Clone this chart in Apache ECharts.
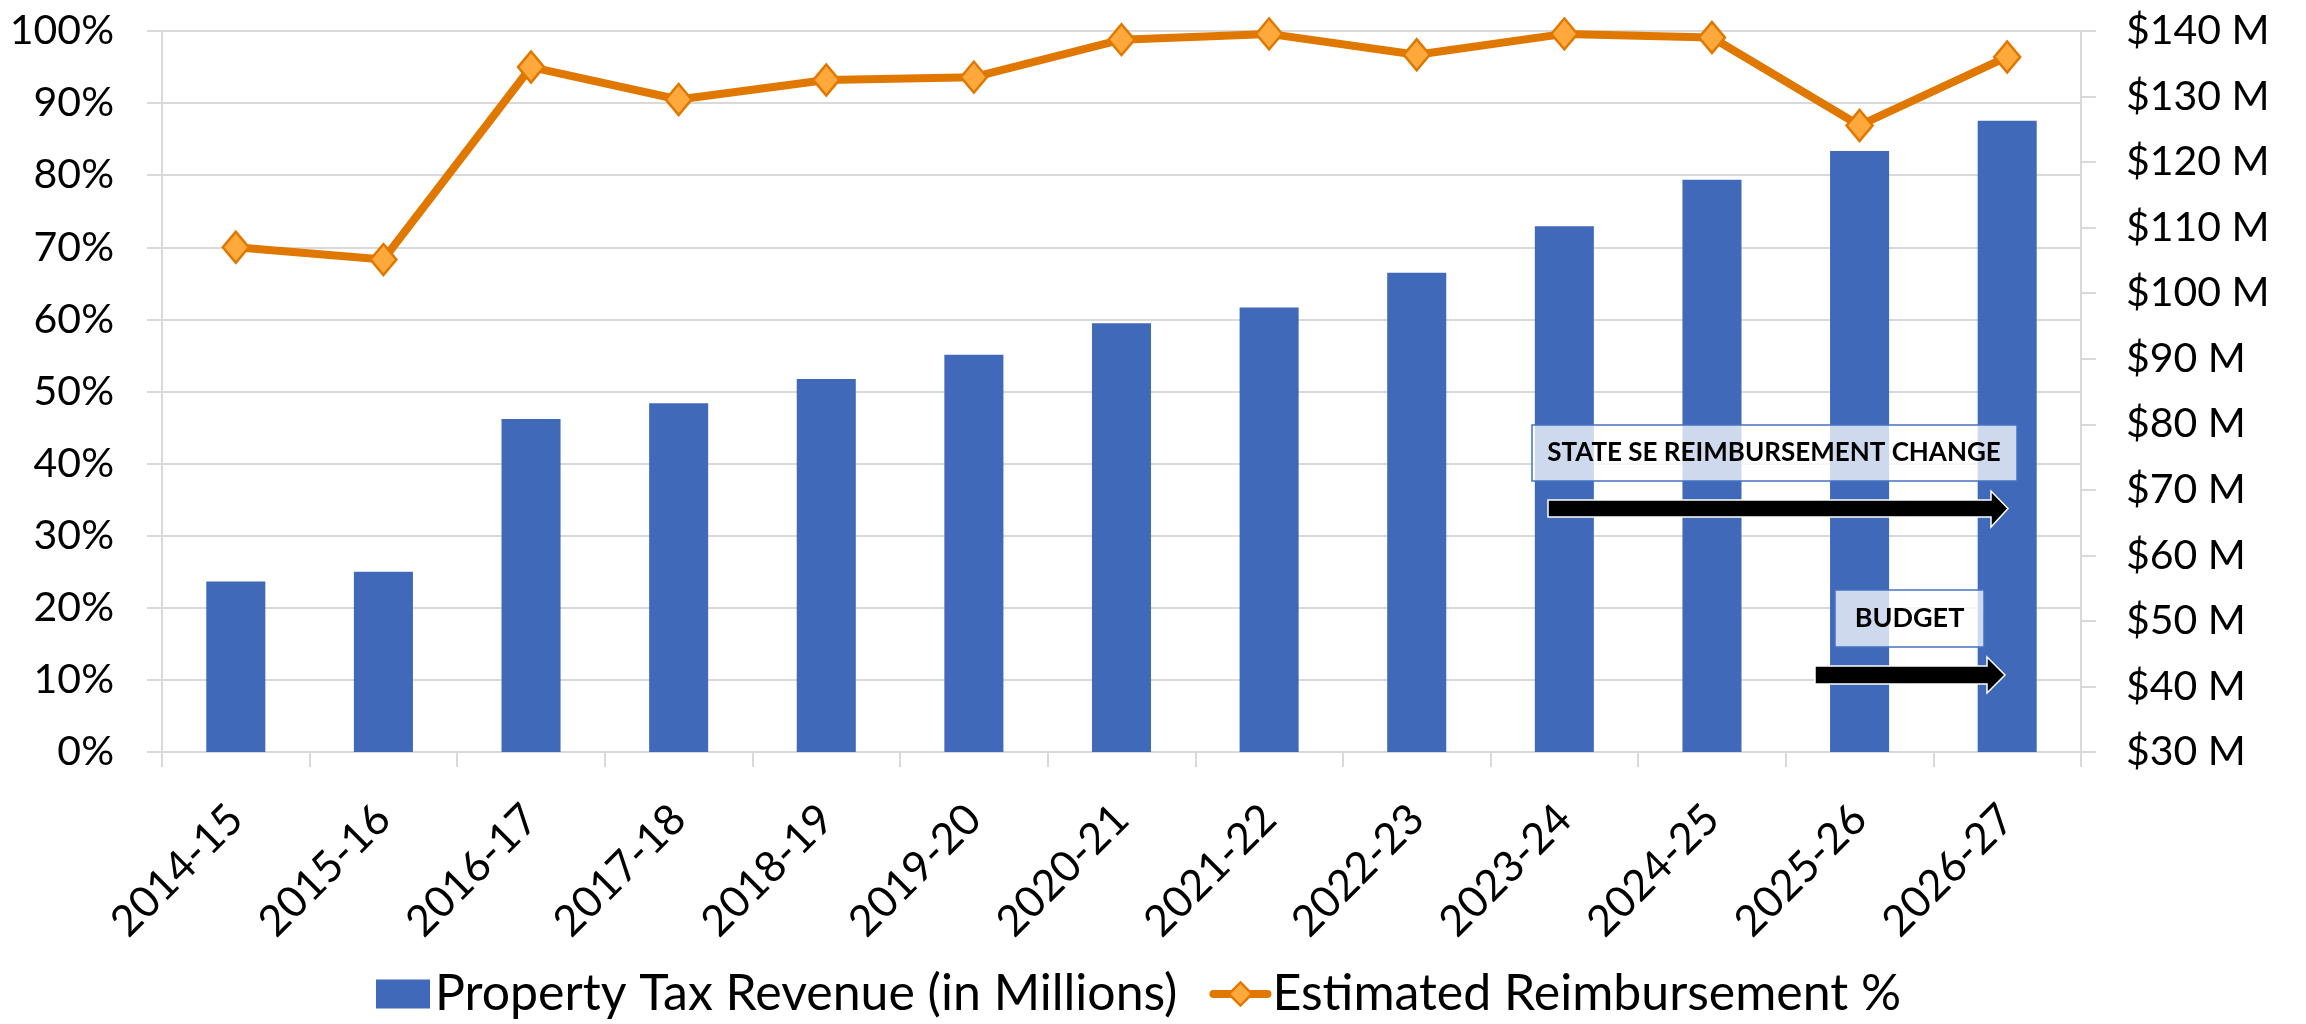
<!DOCTYPE html>
<html>
<head>
<meta charset="utf-8">
<script src="https://cdn.jsdelivr.net/npm/echarts@6/dist/echarts.min.js"></script>
<style>
html,body{margin:0;padding:0;background:#fff;}
#chart{width:2306px;height:1024px;}
</style>
</head>
<body>
<div id="chart"></div>
<script>
// ---- data ----
var categories = ['2014-15','2015-16','2016-17','2017-18','2018-19','2019-20','2020-21','2021-22','2022-23','2023-24','2024-25','2025-26','2026-27'];
var revenueMillions = [56.0, 57.5, 80.8, 83.2, 86.9, 90.6, 95.4, 97.8, 103.1, 110.2, 117.3, 121.7, 126.3];
var reimbursementPct = [70.0, 68.3, 95.0, 90.5, 93.2, 93.6, 98.8, 99.6, 96.7, 99.6, 99.1, 86.9, 96.4];
var seriesNames = ['Property Tax Revenue (in Millions)', 'Estimated Reimbursement %'];
var annotationLabels = ['STATE SE REIMBURSEMENT CHANGE', 'BUDGET'];

var FONT = 'Lato';
var GRID = '#d9d9d9';
var LINE_COLOR = '#e07800';
var MARKER_FILL = '#ffa93d';

var chart = echarts.init(document.getElementById('chart'), null, {renderer: 'canvas'});

var option = {
  backgroundColor: '#ffffff',
  animation: false,
  grid: {left: 162, right: 225, top: 31, bottom: 272, containLabel: false},
  legend: {
    left: 371,
    top: 964,
    itemWidth: 54,
    itemHeight: 29,
    itemGap: 32,
    textStyle: {fontFamily: FONT, fontSize: 50, color: '#000'},
    data: [
      {name: seriesNames[0], icon: 'rect'},
      {name: seriesNames[1],
       lineStyle: {width: 8, color: LINE_COLOR, cap: 'round'},
       itemStyle: {color: MARKER_FILL, borderColor: LINE_COLOR, borderWidth: 2.5}}
    ]
  },
  xAxis: {
    type: 'category',
    data: categories,
    boundaryGap: true,
    axisLine: {show: true, lineStyle: {color: GRID, width: 2}},
    axisTick: {show: true, length: 15, lineStyle: {color: GRID, width: 2}},
    axisLabel: {rotate: 45, margin: 60, fontFamily: FONT, fontSize: 43, color: '#000', interval: 0}
  },
  yAxis: [
    {
      type: 'value',
      min: 0, max: 100, interval: 10,
      position: 'left',
      axisLine: {show: true, lineStyle: {color: GRID, width: 2}},
      axisTick: {show: true, length: 15, lineStyle: {color: GRID, width: 2}},
      splitLine: {show: true, lineStyle: {color: GRID, width: 2}},
      axisLabel: {margin: 48, fontFamily: FONT, fontSize: 41, color: '#000', formatter: '{value}%'}
    },
    {
      type: 'value',
      min: 30, max: 140, interval: 10,
      position: 'right',
      axisLine: {show: true, lineStyle: {color: GRID, width: 2}},
      axisTick: {show: true, length: 15, lineStyle: {color: GRID, width: 2}},
      splitLine: {show: false},
      axisLabel: {margin: 45, fontFamily: FONT, fontSize: 41, color: '#000', formatter: '${value} M'}
    }
  ],
  series: [
    {
      name: seriesNames[0],
      type: 'bar',
      yAxisIndex: 1,
      data: revenueMillions,
      barWidth: '40%',
      itemStyle: {color: '#4169ba'},
      z: 2
    },
    {
      name: seriesNames[1],
      type: 'line',
      yAxisIndex: 0,
      data: reimbursementPct,
      symbol: 'diamond',
      symbolSize: [26, 31],
      lineStyle: {color: LINE_COLOR, width: 8},
      itemStyle: {color: MARKER_FILL, borderColor: LINE_COLOR, borderWidth: 2.5},
      z: 5
    }
  ],
  graphic: [
    {
      type: 'rect', z: 100,
      shape: {x: 1532, y: 425, width: 485, height: 56},
      style: {fill: 'rgba(255,255,255,0.75)', stroke: '#4472c4', lineWidth: 1.5}
    },
    {
      type: 'text', z: 101,
      x: 1774, y: 453,
      style: {text: annotationLabels[0], fontFamily: FONT, fontWeight: 'bold', fontSize: 26, fill: '#000', align: 'center', verticalAlign: 'middle'}
    },
    {
      type: 'polygon', z: 100,
      shape: {points: [[1548, 500], [1991, 500], [1991, 491], [2008, 508.5], [1991, 527], [1991, 517], [1548, 517]]},
      style: {fill: '#000', stroke: '#fff', lineWidth: 1.5}
    },
    {
      type: 'rect', z: 100,
      shape: {x: 1835, y: 590, width: 149, height: 57},
      style: {fill: 'rgba(255,255,255,0.75)', stroke: '#4472c4', lineWidth: 1.5}
    },
    {
      type: 'text', z: 101,
      x: 1909.5, y: 618.5,
      style: {text: annotationLabels[1], fontFamily: FONT, fontWeight: 'bold', fontSize: 27, fill: '#000', align: 'center', verticalAlign: 'middle'}
    },
    {
      type: 'polygon', z: 100,
      shape: {points: [[1815, 666], [1987, 666], [1987, 657], [2005, 675], [1987, 693], [1987, 684], [1815, 684]]},
      style: {fill: '#000', stroke: '#fff', lineWidth: 1.5}
    }
  ]
};

chart.setOption(option);
</script>
</body>
</html>
